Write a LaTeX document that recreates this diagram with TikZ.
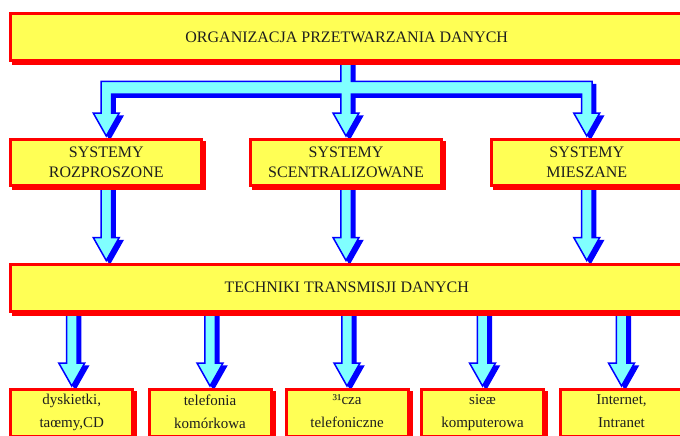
\documentclass[tikz,border=0pt]{standalone}
\usepackage{fontspec}
\setmainfont{Liberation Serif}
\usetikzlibrary{shadows,calc}
\pgfdeclarelayer{bg}
\pgfsetlayers{bg,main}
\definecolor{boxfill}{RGB}{255,255,85}
\definecolor{boxline}{RGB}{255,0,0}
\definecolor{arrowfill}{RGB}{128,255,255}
\definecolor{arrowline}{RGB}{0,0,255}
\definecolor{ink}{RGB}{30,30,30}

\tikzset{
  box/.style={rectangle, draw=boxline, fill=boxfill, line width=3pt, inner sep=0pt,
    align=center, text=ink,
    general shadow={fill=boxline, draw=boxline, line width=3pt,
      shadow xshift=3pt, shadow yshift=-3pt}},
  widebox/.style={box, minimum width=672.5pt, minimum height=47pt,
    font=\fontsize{16}{18}\selectfont},
  midbox/.style={box, minimum width=191pt, minimum height=46pt,
    font=\fontsize{16}{20}\selectfont},
  % fixed top and bottom struts so that every two-line label sits alike
  leafbox/.style={box, minimum width=122pt, minimum height=47pt,
    font=\fontsize{15}{23}\selectfont,
    execute at begin node={\rule{0pt}{18.5pt}},
    execute at end node={\rule[-3.5pt]{0pt}{3.5pt}}},
  blockarrow/.style={draw=arrowline, fill=arrowfill, line width=1.5pt, line join=miter,
    general shadow={fill=arrowline, draw=arrowline, line width=1.5pt,
      shadow xshift=3.5pt, shadow yshift=-3pt}},
  % straight block arrow pointing down from the start to the target
  downarrow/.style={blockarrow, to path={let \p1=(\tikztostart), \p2=(\tikztotarget) in
    (\x1-5.25pt,\y1) -- (\x1-5.25pt,\y2+25pt) -- (\x1-13pt,\y2+25pt) -- (\x2,\y2+2pt)
    -- (\x1+13pt,\y2+25pt) -- (\x1+5.25pt,\y2+25pt) -- (\x1+5.25pt,\y1) -- cycle}},
}

\begin{document}
\begin{tikzpicture}[x=1pt,y=-1pt]
  \begin{pgfonlayer}{bg}
    \fill[white] (0,0) rectangle (680,436);
  \end{pgfonlayer}
  \useasboundingbox (0,0) rectangle (680,436);

  % boxes
  \node[widebox] (top) at (346.75,37) {ORGANIZACJA PRZETWARZANIA DANYCH};

  \node[midbox] (sysA) at (106.25,162.5) {SYSTEMY\\ROZPROSZONE};
  \node[midbox] (sysB) at (346,162.5) {SYSTEMY\\SCENTRALIZOWANE};
  \node[midbox] (sysC) at (586.75,162.5) {SYSTEMY\\MIESZANE};

  \node[widebox] (tech) at (346.75,287.5) {TECHNIKI TRANSMISJI DANYCH};

  \node[leafbox] (m1) at (71.75,413) {dyskietki,\\taœmy,CD};
  \node[leafbox] (m2) at (210,413) {telefonia\\komórkowa};
  \node[leafbox] (m3) at (347,413) {³¹cza\\telefoniczne};
  \node[leafbox] (m4) at (482.5,413) {sieæ\\komputerowa};
  \node[leafbox] (m5) at (621.5,413) {Internet,\\Intranet};

  % arrows, drawn beneath the boxes
  \begin{pgfonlayer}{bg}
    % branching arrow from the top box to the three system boxes
    \draw[blockarrow] let \p1=(top.south), \p2=(sysA.north), \p3=(sysB.north), \p4=(sysC.north) in
      (\x3-5.25pt,\y1) -- (\x3-5.25pt,\y1-19.5pt) -- (\x2-5.25pt,\y1-19.5pt)
      -- (\x2-5.25pt,\y2+25pt) -- (\x2-13pt,\y2+25pt) -- (\x2,\y2+2pt) -- (\x2+13pt,\y2+25pt)
      -- (\x2+5.25pt,\y2+25pt) -- (\x2+5.25pt,\y1-32pt) -- (\x3-5.25pt,\y1-32pt)
      -- (\x3-5.25pt,\y2+25pt) -- (\x3-13pt,\y2+25pt) -- (\x3,\y2+2pt) -- (\x3+13pt,\y2+25pt)
      -- (\x3+5.25pt,\y2+25pt) -- (\x3+5.25pt,\y1-32pt) -- (\x4-5.25pt,\y1-32pt)
      -- (\x4-5.25pt,\y2+25pt) -- (\x4-13pt,\y2+25pt) -- (\x4,\y2+2pt) -- (\x4+13pt,\y2+25pt)
      -- (\x4+5.25pt,\y2+25pt) -- (\x4+5.25pt,\y1-19.5pt) -- (\x3+5.25pt,\y1-19.5pt)
      -- (\x3+5.25pt,\y1) -- cycle;

    \draw[downarrow] (sysA.south) to (tech.north -| sysA.south);
    \draw[downarrow] (sysB.south) to (tech.north -| sysB.south);
    \draw[downarrow] (sysC.south) to (tech.north -| sysC.south);

    \draw[downarrow] (tech.south -| m1.north) to (m1.north);
    \draw[downarrow] (tech.south -| m2.north) to (m2.north);
    \draw[downarrow] (tech.south -| m3.north) to (m3.north);
    \draw[downarrow] (tech.south -| m4.north) to (m4.north);
    \draw[downarrow] (tech.south -| m5.north) to (m5.north);
  \end{pgfonlayer}
\end{tikzpicture}
\end{document}
